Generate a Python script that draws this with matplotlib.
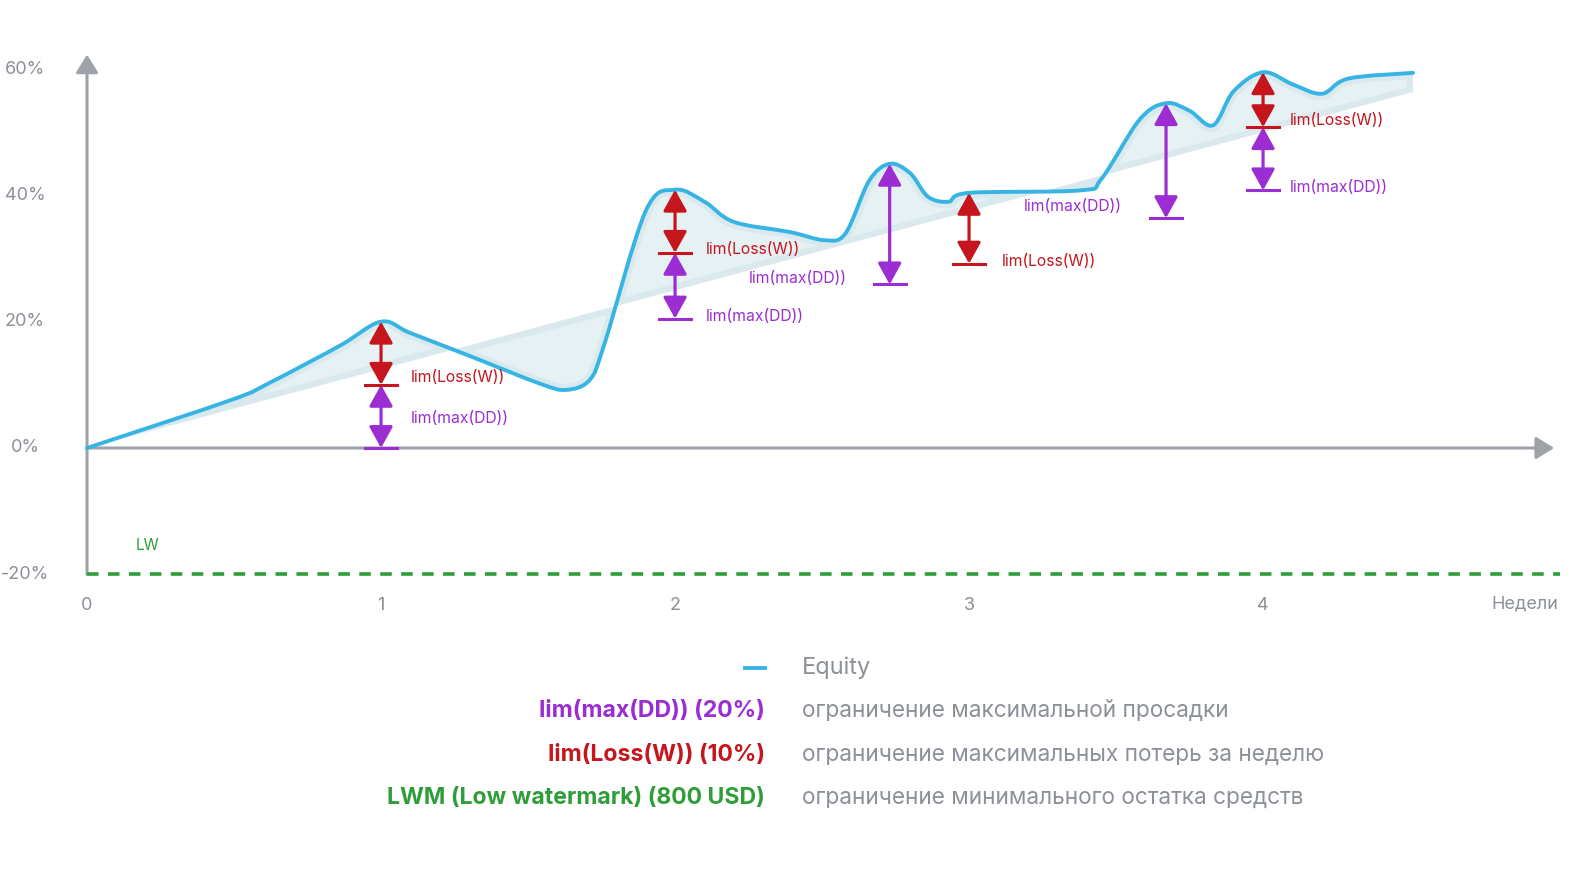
import numpy as np
import matplotlib.pyplot as plt
from matplotlib.path import Path
from matplotlib.patches import PathPatch

plt.rcParams['font.family'] = ['Inter', 'DejaVu Sans']

# кривая Equity (недели, %), точки
weeks = [0.0, 0.49, 0.62, 0.86, 1.0, 1.1, 1.3, 1.54, 1.63, 1.71, 1.76, 1.9,
         2.0, 2.1, 2.2, 2.39, 2.51, 2.58, 2.66, 2.73, 2.8, 2.86, 2.93, 3.0,
         3.38, 3.45, 3.58, 3.67, 3.75, 3.83, 3.9, 4.0, 4.1, 4.2, 4.29, 4.51]
equity = [0.0, 7.6, 10.3, 16.2, 20.0, 18.2, 14.6, 10.2, 9.2, 10.8, 16.5, 37.5,
          40.9, 39.0, 35.8, 34.2, 32.9, 34.0, 42.3, 45.0, 43.5, 39.8, 39.0, 40.4,
          40.8, 42.6, 52.0, 54.6, 53.4, 51.1, 56.5, 59.5, 57.6, 56.1, 58.5, 59.4]
trend_slope = 12.5  # % в неделю, линия тренда под заливкой

# стрелки ограничений: (неделя, верх, низ)
loss_arrows = [(1.0, 20.0, 10.0), (2.0, 40.9, 30.9), (3.0, 40.4, 29.2), (4.0, 59.5, 50.8)]
dd_arrows = [(1.0, 10.0, 0.0), (2.0, 30.9, 20.5), (2.73, 45.0, 25.9),
             (3.67, 54.6, 36.4), (4.0, 50.8, 40.8)]

# подписи у стрелок: (неделя, %, текст, тип)
labels = [(1.1, 11.2, 'lim(Loss(W))', 'loss'), (1.1, 4.7, 'lim(max(DD))', 'dd'),
          (2.105, 31.5, 'lim(Loss(W))', 'loss'), (2.25, 26.8, 'lim(max(DD))', 'dd'),
          (2.105, 20.9, 'lim(max(DD))', 'dd'), (3.185, 38.2, 'lim(max(DD))', 'dd'),
          (3.112, 29.6, 'lim(Loss(W))', 'loss'), (4.092, 51.8, 'lim(Loss(W))', 'loss'),
          (4.092, 41.2, 'lim(max(DD))', 'dd')]

y_ticks = [60, 40, 20, 0, -20]
x_ticks = [0, 1, 2, 3, 4]
lw_level = -20

legend_keys = ['lim(max(DD)) (20%)', 'lim(Loss(W)) (10%)', 'LWM (Low watermark) (800 USD)']
legend_text = ['ограничение максимальной просадки',
               'ограничение максимальных потерь за неделю',
               'ограничение минимального остатка средств']

GRAY = '#9ea3aa'
TXT = '#8c9199'
BLUE = '#36b4e3'
RED = '#c4161c'
PURPLE = '#9b2dd3'
GREEN = '#2f9e3a'
colors = {'loss': RED, 'dd': PURPLE}

fig = plt.figure(figsize=(15.9, 8.86), dpi=100)
ax = fig.add_axes([0, 0, 1, 1])
ax.set_xlim(-0.296, 5.112)
ax.set_ylim(-69.36, 70.94)
ax.axis('off')


def smooth_path(xs, ys):
    # сглаженная линия через точки (Catmull-Rom -> кривые Безье)
    p = np.column_stack([xs, ys])
    verts = [p[0]]
    codes = [Path.MOVETO]
    n = len(p)
    for i in range(n - 1):
        p0 = p[max(i - 1, 0)]
        p1 = p[i]
        p2 = p[i + 1]
        p3 = p[min(i + 2, n - 1)]
        verts += [p1 + (p2 - p0) / 6, p2 - (p3 - p1) / 6, p2]
        codes += [Path.CURVE4] * 3
    return verts, codes


verts, codes = smooth_path(weeks, equity)

# заливка между кривой и трендом
fill_verts = verts + [(weeks[-1], trend_slope * weeks[-1]), (0, 0), (0, 0)]
fill_codes = codes + [Path.LINETO, Path.LINETO, Path.CLOSEPOLY]
fill_path = Path(fill_verts, fill_codes)
patch = PathPatch(fill_path, facecolor='#e6f1f4', edgecolor='none', zorder=1)
ax.add_patch(patch)
glow = PathPatch(fill_path, facecolor='none', edgecolor='#d5e7ec', lw=9,
                 alpha=0.7, zorder=1.1)
glow.set_clip_path(patch)
ax.add_patch(glow)

# оси со стрелками
axis_arrow = dict(arrowstyle='-|>,head_length=0.55,head_width=0.34',
                  color=GRAY, lw=2.2, mutation_scale=20, shrinkA=0, shrinkB=0)
ax.annotate('', xy=(0, 62.3), xytext=(0, lw_level), arrowprops=axis_arrow, zorder=2)
ax.annotate('', xy=(4.99, 0), xytext=(0, 0), arrowprops=axis_arrow, zorder=2)

# LW
ax.plot([0, 5.01], [lw_level, lw_level], color=GREEN, lw=2.6, ls=(0, (3.2, 2.6)), zorder=2)
ax.text(0.207, -15.4, 'LW', color=GREEN, fontsize=11, ha='center', va='center')

ax.add_patch(PathPatch(Path(verts, codes), facecolor='none', edgecolor=BLUE, lw=2.8,
                       capstyle='round', joinstyle='round', zorder=3))


def limit_arrow(x, top, bottom, color):
    ax.annotate('', xy=(x, bottom), xytext=(x, top),
                arrowprops=dict(arrowstyle='<|-|>,head_length=0.65,head_width=0.36',
                                color=color, lw=2.3, mutation_scale=20,
                                shrinkA=0, shrinkB=0), zorder=4)
    ax.plot([x - 0.055, x + 0.055], [bottom, bottom], color=color, lw=2.2, zorder=4)


for x, top, bottom in dd_arrows:
    limit_arrow(x, top, bottom, PURPLE)
for x, top, bottom in loss_arrows:
    limit_arrow(x, top, bottom, RED)

for x, y, s, kind in labels:
    ax.text(x, y, s, color=colors[kind], fontsize=11.3, ha='left', va='center', zorder=5)

# подписи осей
for v in y_ticks:
    ax.text(-0.211, v, f'{v}%', color=TXT, fontsize=13, ha='center', va='center')
for v in x_ticks:
    ax.text(v, -25.0, str(v), color=TXT, fontsize=13, ha='center', va='center')
ax.text(5.003, -24.7, 'Недели', color=TXT, fontsize=13, ha='right', va='center')


# легенда
def fx(px):
    return px / 1590


def fy(py):
    return 1 - py / 886


fig.add_artist(plt.Line2D([fx(745), fx(765)], [fy(668), fy(668)], color=BLUE, lw=2.8))
fig.text(fx(802), fy(668), 'Equity', color=TXT, fontsize=17, ha='left', va='center')
key_colors = [PURPLE, RED, GREEN]
for i, (k, t) in enumerate(zip(legend_keys, legend_text)):
    yy = fy(711 + i * 43.5)
    fig.text(fx(765), yy, k, color=key_colors[i], fontsize=16.6, fontweight='bold',
             ha='right', va='center')
    fig.text(fx(802), yy, t, color=TXT, fontsize=16.3, ha='left', va='center')

fig.savefig('out.png', dpi=100)
